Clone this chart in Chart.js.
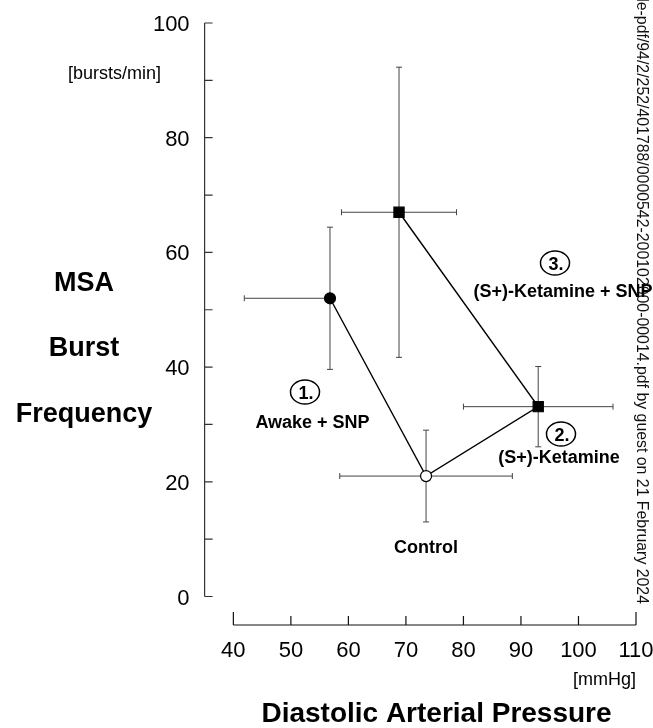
<!DOCTYPE html>
<html>
<head>
<meta charset="utf-8">
<script src="https://cdn.jsdelivr.net/npm/chart.js@4.4.1/dist/chart.umd.min.js"></script>
<style>
  html, body { margin: 0; padding: 0; background: #fff; }
  canvas { display: block; }
</style>
</head>
<body>
<canvas id="c" width="653" height="728"></canvas>
<script>
// ---- data ----
const categories = ['Awake + SNP', 'Control', '(S+)-Ketamine', '(S+)-Ketamine + SNP'];
const pressure = [56.8, 73.5, 93.0, 68.8];          // mmHg (x)
const burstFreq = [52.0, 21.0, 33.1, 67.0];          // bursts/min (y)
const pressureErrLow = [14.9, 15.0, 13.0, 10.0];
const pressureErrHigh = [0, 15.0, 13.0, 10.0];
const burstErr = [12.4, 8.0, 7.0, 25.3];
const xTicks = [40, 50, 60, 70, 80, 90, 100, 110];
const yTicks = [0, 10, 20, 30, 40, 50, 60, 70, 80, 90, 100];
const yTickLabels = [0, 20, 40, 60, 80, 100];

const FONT = '"Liberation Sans", Arial, Helvetica, sans-serif';

const points = pressure.map((p, i) => ({ x: p, y: burstFreq[i] }));

const errorBars = {
  id: 'errorBars',
  beforeDatasetsDraw(chart) {
    const { ctx, scales: { x, y } } = chart;
    ctx.save();
    ctx.strokeStyle = '#444';
    ctx.lineWidth = 1;
    const cap = 3;
    for (let i = 0; i < points.length; i++) {
      const px = x.getPixelForValue(pressure[i]);
      const py = y.getPixelForValue(burstFreq[i]);
      const yt = y.getPixelForValue(burstFreq[i] + burstErr[i]);
      const yb = y.getPixelForValue(burstFreq[i] - burstErr[i]);
      ctx.beginPath();
      ctx.moveTo(px, yt); ctx.lineTo(px, yb);
      ctx.moveTo(px - cap, yt); ctx.lineTo(px + cap, yt);
      ctx.moveTo(px - cap, yb); ctx.lineTo(px + cap, yb);
      const xl = x.getPixelForValue(pressure[i] - pressureErrLow[i]);
      const xr = x.getPixelForValue(pressure[i] + pressureErrHigh[i]);
      ctx.moveTo(xl, py); ctx.lineTo(xr, py);
      if (pressureErrLow[i] > 0) { ctx.moveTo(xl, py - cap); ctx.lineTo(xl, py + cap); }
      if (pressureErrHigh[i] > 0) { ctx.moveTo(xr, py - cap); ctx.lineTo(xr, py + cap); }
      ctx.stroke();
    }
    ctx.restore();
  }
};

const axesAndText = {
  id: 'axesAndText',
  afterDraw(chart) {
    const { ctx, scales: { x, y } } = chart;
    ctx.save();
    // Y axis
    const ax = x.getPixelForValue(x.min);
    ctx.strokeStyle = '#333';
    ctx.lineWidth = 1.2;
    ctx.beginPath();
    ctx.moveTo(ax, y.getPixelForValue(0));
    ctx.lineTo(ax, y.getPixelForValue(100));
    yTicks.forEach(t => {
      const ty = y.getPixelForValue(t);
      ctx.moveTo(ax, ty); ctx.lineTo(ax + 8, ty);
    });
    ctx.stroke();
    ctx.fillStyle = '#000';
    ctx.font = '22px ' + FONT;
    ctx.textAlign = 'right';
    ctx.textBaseline = 'alphabetic';
    yTickLabels.forEach(t => {
      ctx.fillText(String(t), ax - 15, y.getPixelForValue(t) + 8);
    });
    // X axis
    const ay = y.getPixelForValue(0) + 28.5;
    ctx.strokeStyle = '#111';
    ctx.beginPath();
    ctx.moveTo(x.getPixelForValue(xTicks[0]), ay);
    ctx.lineTo(x.getPixelForValue(xTicks[xTicks.length - 1]), ay);
    xTicks.forEach((t, i) => {
      const tx = x.getPixelForValue(t);
      const len = (i === 0 || i === xTicks.length - 1) ? 13 : 9;
      ctx.moveTo(tx, ay); ctx.lineTo(tx, ay - len);
    });
    ctx.stroke();
    ctx.textAlign = 'center';
    xTicks.forEach(t => {
      ctx.fillText(String(t), x.getPixelForValue(t), ay + 31.5);
    });
    // unit labels
    ctx.font = '18px ' + FONT;
    ctx.textAlign = 'left';
    ctx.fillText('[bursts/min]', 68, 79);
    ctx.textAlign = 'right';
    ctx.fillText('[mmHg]', x.getPixelForValue(110), 685);
    // axis titles
    ctx.font = 'bold 27px ' + FONT;
    ctx.textAlign = 'center';
    ctx.fillText('MSA', 84, 290.5);
    ctx.fillText('Burst', 84, 356);
    ctx.fillText('Frequency', 84, 421.5);
    ctx.font = 'bold 28px ' + FONT;
    ctx.fillText('Diastolic Arterial Pressure', 436.5, 721.5);
    // annotations
    ctx.font = 'bold 18px ' + FONT;
    ctx.fillText(categories[0], 312.5, 428);
    ctx.fillText(categories[1], 426, 553.3);
    ctx.fillText(categories[2], 559, 463);
    ctx.textAlign = 'left';
    ctx.fillText(categories[3], 473.5, 297);
    const circ = (cx, cy, label) => {
      ctx.beginPath();
      ctx.ellipse(cx, cy, 14.5, 12, 0, 0, Math.PI * 2);
      ctx.fillStyle = '#fff';
      ctx.fill();
      ctx.strokeStyle = '#000';
      ctx.lineWidth = 1.5;
      ctx.stroke();
      ctx.fillStyle = '#000';
      ctx.textAlign = 'center';
      ctx.fillText(label, cx + 1, cy + 6.5);
    };
    circ(305, 392, '1.');
    circ(561, 434, '2.');
    circ(555, 263, '3.');
    // side watermark
    const wm = 'Downloaded from http://pubs.asahq.org/anesthesiology/article-pdf/94/2/252/401788/0000542-200102000-00014.pdf by guest on 21 February 2024';
    const visible = 'le-pdf/94/2/252/401788/0000542-200102000-00014.pdf by guest on 21 February 2024';
    ctx.font = '14px ' + FONT;
    const fs = 14 * 606 / ctx.measureText(visible).width;
    ctx.font = fs.toFixed(2) + 'px ' + FONT;
    ctx.translate(641, 604);
    ctx.rotate(Math.PI / 2);
    ctx.textAlign = 'right';
    ctx.textBaseline = 'middle';
    ctx.fillStyle = '#111';
    ctx.fillText(wm, 0, 0);
    ctx.restore();
  }
};

new Chart(document.getElementById('c'), {
  type: 'scatter',
  data: {
    datasets: [{
      label: 'MSA burst frequency',
      data: points,
      showLine: true,
      borderColor: '#000',
      borderWidth: 1.4,
      tension: 0,
      pointStyle: ['circle', 'circle', 'rect', 'rect'],
      pointRadius: [5.5, 5.5, 7.2, 7.2],
      pointBackgroundColor: ['#000', '#fff', '#000', '#000'],
      pointBorderColor: '#000',
      pointBorderWidth: 1.2,
      clip: false
    }]
  },
  options: {
    responsive: false,
    animation: false,
    devicePixelRatio: 1,
    layout: { padding: { left: 204.6, right: 17, top: 23, bottom: 131.5 } },
    plugins: { legend: { display: false }, tooltip: { enabled: false } },
    scales: {
      x: { type: 'linear', min: 35, max: 110, display: false },
      y: { type: 'linear', min: 0, max: 100, display: false }
    }
  },
  plugins: [errorBars, axesAndText]
});
</script>
</body>
</html>
